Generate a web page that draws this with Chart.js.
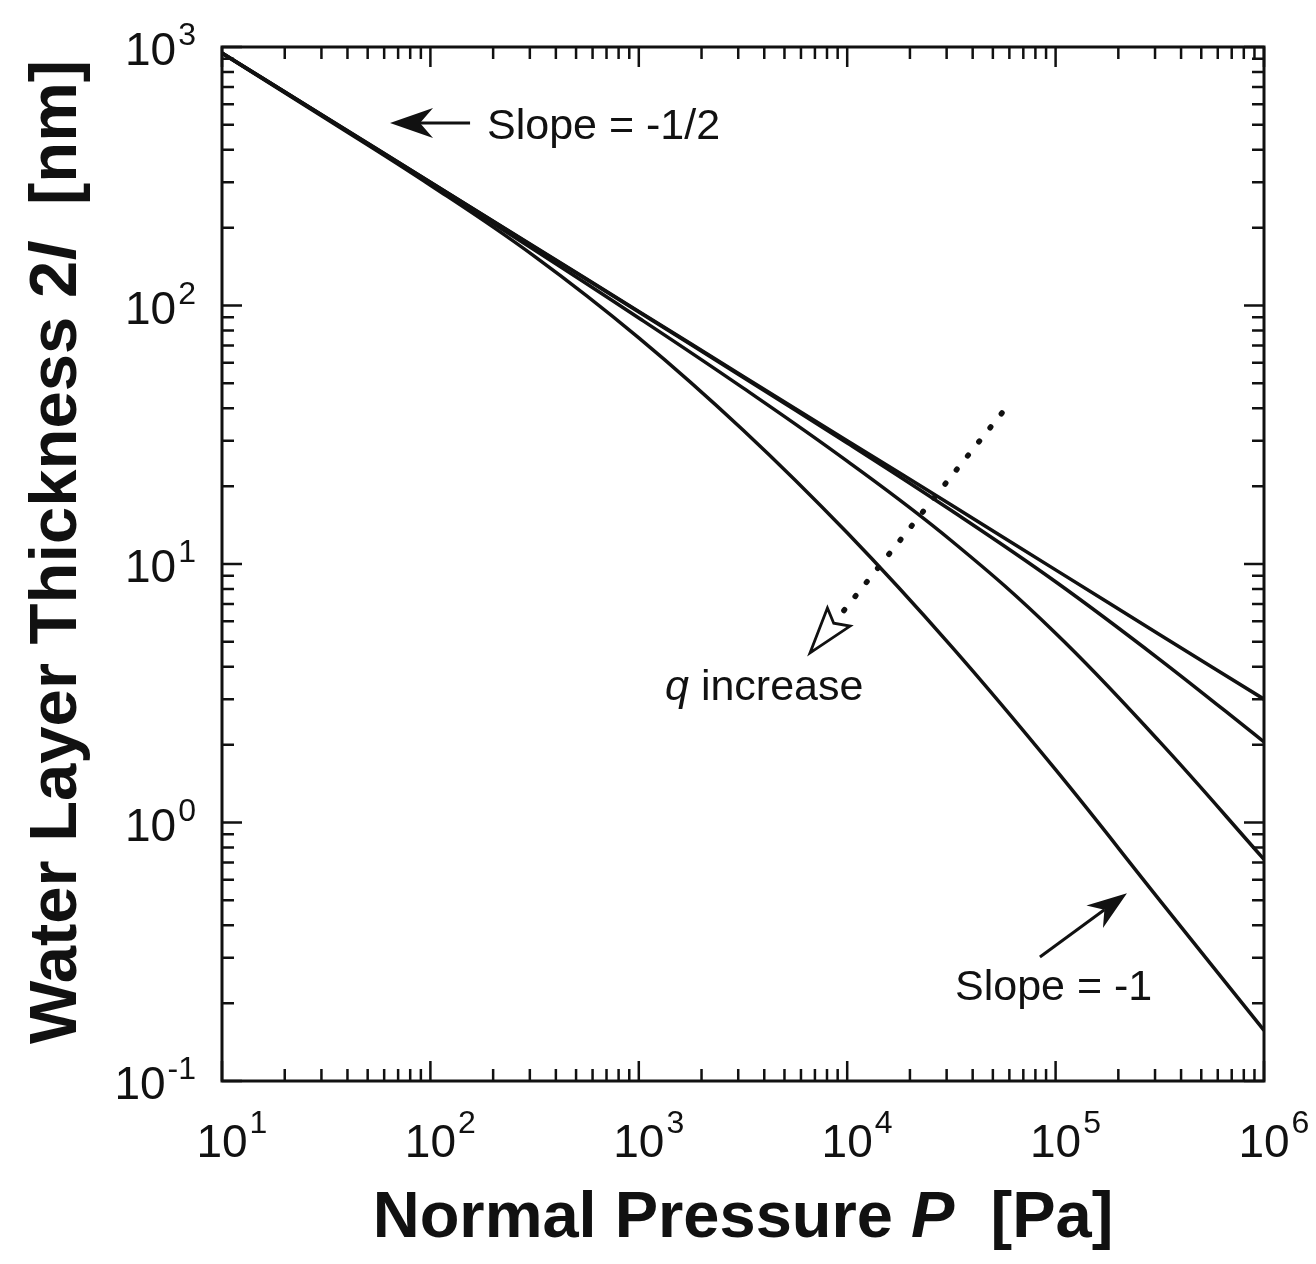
<!DOCTYPE html>
<html>
<head>
<meta charset="utf-8">
<script src="https://cdn.jsdelivr.net/npm/chart.js@4.4.0/dist/chart.umd.min.js"></script>
<style>
  html, body { margin: 0; padding: 0; background: #fff; }
  #wrap { width: 1316px; height: 1264px; }
</style>
</head>
<body>
<div id="wrap"><canvas id="chart" width="1316" height="1264"></canvas></div>
<script>
// Normal pressure P [Pa], half-decade steps
const pressure = [10, 31.6, 100, 316, 1000, 3162, 10000, 31620, 100000, 316200, 1000000];

// Water layer thickness 2l [nm], one list per curve (q small -> q large)
const thickQ1 = [949, 533.5, 300, 168.7, 94.9, 53.3, 30.0, 16.9, 9.49, 5.33, 3.0];
const thickQ2 = [948, 533, 299.5, 168.2, 94.4, 52.8, 29.4, 16.1, 8.54, 4.27, 2.05];
const thickQ3 = [946, 531, 296, 164, 89.5, 48.0, 25.0, 12.3, 5.4, 2.05, 0.72];
const thickQ4 = [946, 528, 292, 155, 75, 33, 13.2, 4.8, 1.6, 0.5, 0.157];

// tick labels (powers of ten)
const xTickExp = [1, 2, 3, 4, 5, 6];
const yTickExp = [-1, 0, 1, 2, 3];

const FONT = '"Liberation Sans", Arial, Helvetica, sans-serif';
const INK = '#111';

// annotations, in data coordinates
const notes = {
  halfArrow: { from: [155, 508], to: [64, 508] },
  halfText: { at: [187, 441], text: 'Slope = -1/2' },
  qArrow: { from: [55300, 38.4], to: [6630, 4.53] },
  qText: { at: [1336, 2.98] },
  oneArrow: { from: [84100, 0.302], to: [220000, 0.533] },
  oneText: { at: [32900, 0.206], text: 'Slope = -1' }
};

function drawArrow(ctx, x0, y0, x1, y1, o) {
  const ang = Math.atan2(y1 - y0, x1 - x0);
  const ux = Math.cos(ang), uy = Math.sin(ang);
  const bx = x1 - ux * o.len, by = y1 - uy * o.len;
  const nx = x1 - ux * (o.len - o.notch), ny = y1 - uy * (o.len - o.notch);
  // shaft
  ctx.beginPath();
  ctx.moveTo(x0, y0);
  ctx.lineTo(nx, ny);
  ctx.stroke();
  // head
  ctx.setLineDash([]);
  ctx.lineCap = 'butt';
  ctx.lineJoin = 'miter';
  ctx.beginPath();
  ctx.moveTo(x1, y1);
  ctx.lineTo(bx - uy * o.half, by + ux * o.half);
  ctx.lineTo(nx, ny);
  ctx.lineTo(bx + uy * o.half, by - ux * o.half);
  ctx.closePath();
  if (o.fill) ctx.fill();
  else { ctx.lineWidth = o.headWidth || 2.5; ctx.stroke(); }
}

// draws "10" with a raised exponent
function drawPow(ctx, exp, px, py, mode) {
  const base = '10', sup = String(exp);
  ctx.font = '46px ' + FONT;
  const wb = ctx.measureText(base).width;
  ctx.font = '32px ' + FONT;
  const ws = ctx.measureText(sup).width;
  let xb, yb, rise;
  if (mode === 'x') {
    xb = px - wb / 2;
    yb = py;
    rise = 24;
  } else {
    xb = px - ws - 2 - wb;
    yb = py + 18;
    rise = 20;
  }
  ctx.textAlign = 'left';
  ctx.textBaseline = 'alphabetic';
  ctx.font = '46px ' + FONT;
  ctx.fillText(base, xb, yb);
  ctx.font = '32px ' + FONT;
  ctx.fillText(sup, xb + wb + 2, yb - rise);
}

// draws pieces of text one after another, mixing roman and italic
function drawRuns(ctx, runs, x, y, align) {
  let total = 0;
  runs.forEach(r => { ctx.font = r.font; total += ctx.measureText(r.t).width; });
  let cx = align === 'center' ? x - total / 2 : x;
  ctx.textAlign = 'left';
  runs.forEach(r => {
    ctx.font = r.font;
    ctx.fillText(r.t, cx, y);
    cx += ctx.measureText(r.t).width;
  });
}

const framePlugin = {
  id: 'frame',
  afterDraw(chart) {
    const { ctx, chartArea: a } = chart;
    const sx = chart.scales.x, sy = chart.scales.y;
    ctx.save();
    ctx.strokeStyle = INK;
    ctx.fillStyle = INK;

    // frame
    ctx.lineWidth = 3;
    ctx.strokeRect(a.left, a.top, a.right - a.left, a.bottom - a.top);

    // inward ticks on all four sides
    const majorLen = 20, minorLen = 12;
    ctx.lineWidth = 2.5;
    ctx.beginPath();
    xTickExp.forEach((e, i) => {
      for (let m = 1; m <= 9; m++) {
        if (m > 1 && i === xTickExp.length - 1) break;
        const px = sx.getPixelForValue(m * Math.pow(10, e));
        const len = m === 1 ? majorLen : minorLen;
        ctx.moveTo(px, a.bottom); ctx.lineTo(px, a.bottom - len);
        ctx.moveTo(px, a.top); ctx.lineTo(px, a.top + len);
      }
    });
    yTickExp.forEach((e, i) => {
      for (let m = 1; m <= 9; m++) {
        if (m > 1 && i === yTickExp.length - 1) break;
        const py = sy.getPixelForValue(m * Math.pow(10, e));
        const len = m === 1 ? majorLen : minorLen;
        ctx.moveTo(a.left, py); ctx.lineTo(a.left + len, py);
        ctx.moveTo(a.right, py); ctx.lineTo(a.right - len, py);
      }
    });
    ctx.stroke();

    // tick labels
    xTickExp.forEach(e => drawPow(ctx, e, sx.getPixelForValue(Math.pow(10, e)), a.bottom + 76, 'x'));
    yTickExp.forEach(e => drawPow(ctx, e, a.left - 26, sy.getPixelForValue(Math.pow(10, e)), 'y'));

    // axis titles
    const bold = 'bold 65px ' + FONT, boldIt = 'italic bold 65px ' + FONT;
    ctx.textBaseline = 'alphabetic';
    drawRuns(ctx, [
      { t: 'Normal Pressure ', font: bold },
      { t: 'P', font: boldIt },
      { t: '  [Pa]', font: bold }
    ], (a.left + a.right) / 2, a.bottom + 156, 'center');

    ctx.save();
    ctx.translate(76, 552);
    ctx.rotate(-Math.PI / 2);
    const boldY = 'bold 67px ' + FONT, boldItY = 'italic bold 67px ' + FONT;
    drawRuns(ctx, [
      { t: 'Water Layer Thickness 2', font: boldY },
      { t: 'l', font: boldItY },
      { t: '  [nm]', font: boldY }
    ], 0, 0, 'center');
    ctx.restore();

    // annotations
    const P = (v) => [sx.getPixelForValue(v[0]), sy.getPixelForValue(v[1])];
    ctx.lineWidth = 3;
    ctx.lineCap = 'butt';
    let f = P(notes.halfArrow.from), t = P(notes.halfArrow.to);
    drawArrow(ctx, f[0], f[1], t[0], t[1], { len: 43, half: 15, notch: 13, fill: true });
    f = P(notes.oneArrow.from); t = P(notes.oneArrow.to);
    ctx.lineWidth = 3;
    drawArrow(ctx, f[0], f[1], t[0], t[1], { len: 40, half: 14, notch: 12, fill: true });

    // dotted q arrow with open head
    f = P(notes.qArrow.from); t = P(notes.qArrow.to);
    ctx.lineWidth = 5.5;
    ctx.lineCap = 'round';
    ctx.setLineDash([1, 17]);
    drawArrow(ctx, f[0], f[1], t[0], t[1], { len: 46, half: 14.5, notch: 8, fill: false, headWidth: 2.8 });
    ctx.setLineDash([]);

    ctx.font = '43px ' + FONT;
    ctx.textAlign = 'left';
    let p = P(notes.halfText.at);
    ctx.fillText(notes.halfText.text, p[0], p[1]);
    p = P(notes.oneText.at);
    ctx.fillText(notes.oneText.text, p[0], p[1]);
    p = P(notes.qText.at);
    drawRuns(ctx, [
      { t: 'q', font: 'italic 43px ' + FONT },
      { t: ' increase', font: '43px ' + FONT }
    ], p[0], p[1], 'left');

    ctx.restore();
  }
};

const curves = [thickQ1, thickQ2, thickQ3, thickQ4];

new Chart(document.getElementById('chart').getContext('2d'), {
  type: 'scatter',
  data: {
    datasets: curves.map((arr, i) => ({
      label: 'q' + (i + 1),
      data: pressure.map((p, j) => ({ x: p, y: arr[j] })),
      showLine: true,
      borderColor: INK,
      borderWidth: 3.5,
      pointRadius: 0,
      tension: 0.4,
      fill: false
    }))
  },
  options: {
    responsive: false,
    animation: false,
    layout: { padding: { left: 222, right: 52, top: 47, bottom: 183 } },
    plugins: {
      legend: { display: false },
      tooltip: { enabled: false }
    },
    scales: {
      x: { type: 'logarithmic', min: 10, max: 1000000, display: false },
      y: { type: 'logarithmic', min: 0.1, max: 1000, display: false }
    }
  },
  plugins: [framePlugin]
});
</script>
</body>
</html>
